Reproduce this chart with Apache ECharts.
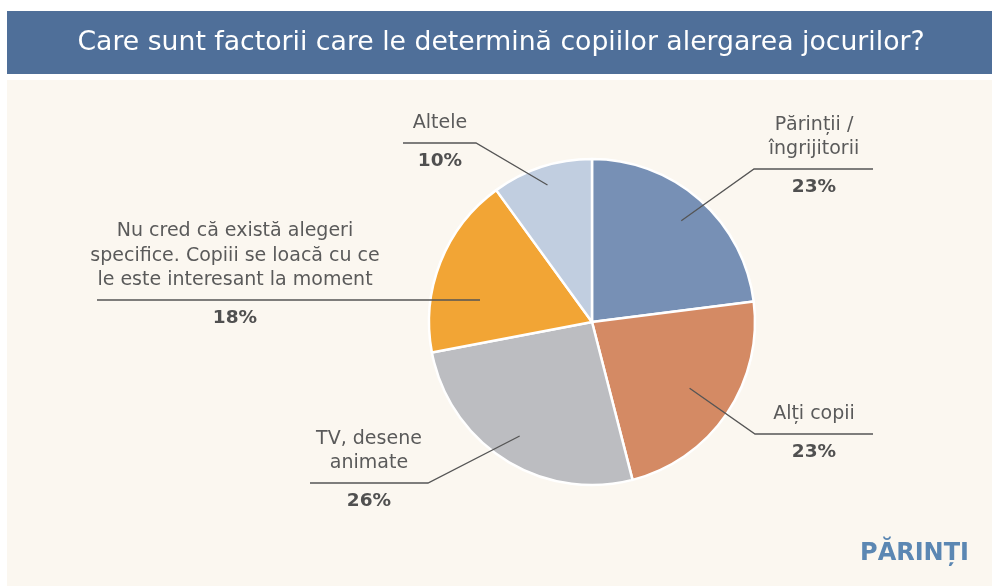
<!DOCTYPE html>
<html>
<head>
<meta charset="utf-8">
<script src="https://cdn.jsdelivr.net/npm/echarts@6/dist/echarts.min.js"></script>
<style>
  html, body { margin: 0; padding: 0; background: #ffffff; }
  #chart { width: 992px; height: 586px; }
</style>
</head>
<body>
<div id="chart"></div>
<script>
// ---- data ----
const categories = [
  'Părinții /\nîngrijitorii',
  'Alți copii',
  'TV, desene\nanimate',
  'Nu cred că există alegeri\nspecifice. Copiii se loacă cu ce\nle este interesant la moment',
  'Altele'
];
const values = [23, 23, 26, 18, 10];
const colors = ['#7790B5', '#D48A64', '#BCBDC1', '#F2A535', '#C1CEE0'];
const titleText = 'Care sunt factorii care le determină copiilor alergarea jocurilor?';
const brandText = 'PĂRINȚI';

// ---- layout (label placement, px) ----
const pieCenter = [592, 322];
const pieRadius = 163;
const labelPlacement = [
  { cx: 814, lineY: 169, left: 754, right: 873, r: 135, side: 'left' },
  { cx: 814, lineY: 434, left: 755, right: 873, r: 118, side: 'left' },
  { cx: 369, lineY: 483, left: 310, right: 428, r: 135, side: 'right' },
  { cx: 235, lineY: 300, left: 97,  right: 480, r: null, side: 'right' },
  { cx: 440, lineY: 143, left: 403, right: 476, r: 144, side: 'right' }
];
const nameLH = 24.5, pctLH = 51.5, lineBelowName = 19.5;

const total = values.reduce((a, b) => a + b, 0);
function midAngle(i) { // radians, measured clockwise from 12 o'clock
  let cum = 0;
  for (let k = 0; k < i; k++) cum += values[k];
  return (cum + values[i] / 2) / total * Math.PI * 2;
}

const chart = echarts.init(document.getElementById('chart'));

const pieData = categories.map((c, i) => ({ name: c, value: values[i], itemStyle: { color: colors[i] } }));

const option = {
  backgroundColor: '#ffffff',
  animation: false,
  graphic: [
    { type: 'rect', z: 0, shape: { x: 7, y: 11, width: 985, height: 63 }, style: { fill: '#4F6F99' } },
    { type: 'rect', z: 0, shape: { x: 7, y: 80, width: 985, height: 506 }, style: { fill: '#FBF7F0' } },
    { type: 'text', z: 1, x: 501, y: 43.5,
      style: { text: titleText, fill: '#ffffff', font: '26.7px "DejaVu Sans"', textAlign: 'center', textVerticalAlign: 'middle' } },
    { type: 'text', z: 1, x: 969, y: 554,
      style: { text: brandText, fill: '#5B87B3', font: 'bold 24px "DejaVu Sans"', textAlign: 'right', textVerticalAlign: 'middle' } }
  ],
  series: [
    {
      // the slices
      type: 'pie',
      z: 2,
      center: pieCenter,
      radius: [0, pieRadius],
      startAngle: 90,
      clockwise: true,
      silent: true,
      itemStyle: { borderColor: '#ffffff', borderWidth: 2.5 },
      label: { show: false },
      labelLine: { show: false },
      data: pieData
    },
    {
      // transparent overlay carrying the labels and leader lines (drawn above slices)
      type: 'pie',
      z: 5,
      center: pieCenter,
      radius: [0, pieRadius],
      startAngle: 90,
      clockwise: true,
      silent: true,
      avoidLabelOverlap: false,
      itemStyle: { color: 'rgba(0,0,0,0)', borderWidth: 0 },
      data: categories.map((c, i) => ({ name: c, value: values[i] })),
      label: {
        show: true,
        position: 'outside',
        formatter: p => p.name.split('\n').map(s => '{n|' + s + '}').join('\n') + '\n{p|' + p.value + '%}',
        rich: {
          n: { fontFamily: 'DejaVu Sans', fontSize: 19, color: '#5A5A5A', lineHeight: nameLH, align: 'center' },
          p: { fontFamily: 'DejaVu Sans', fontSize: 18.5, fontWeight: 'bold', color: '#505050', lineHeight: pctLH, align: 'center' }
        }
      },
      labelLine: { show: true, length: 20, length2: 20, lineStyle: { color: '#555555', width: 1.3 } },
      labelLayout: function (params) {
        const i = params.dataIndex;
        const pl = labelPlacement[i];
        const nLines = categories[i].split('\n').length;
        const top = pl.lineY - (nLines * nameLH - nameLH / 2 + lineBelowName);
        const bendX = pl.side === 'left' ? pl.left : pl.right;
        const endX = pl.side === 'left' ? pl.right : pl.left;
        let start;
        if (pl.r === null) {
          start = [bendX, pl.lineY];
        } else {
          const a = midAngle(i);
          start = [pieCenter[0] + pl.r * Math.sin(a), pieCenter[1] - pl.r * Math.cos(a)];
        }
        return {
          x: pl.cx,
          y: top,
          align: 'center',
          verticalAlign: 'top',
          labelLinePoints: [start, [bendX, pl.lineY], [endX, pl.lineY]]
        };
      }
    }
  ]
};
chart.setOption(option);
</script>
</body>
</html>
